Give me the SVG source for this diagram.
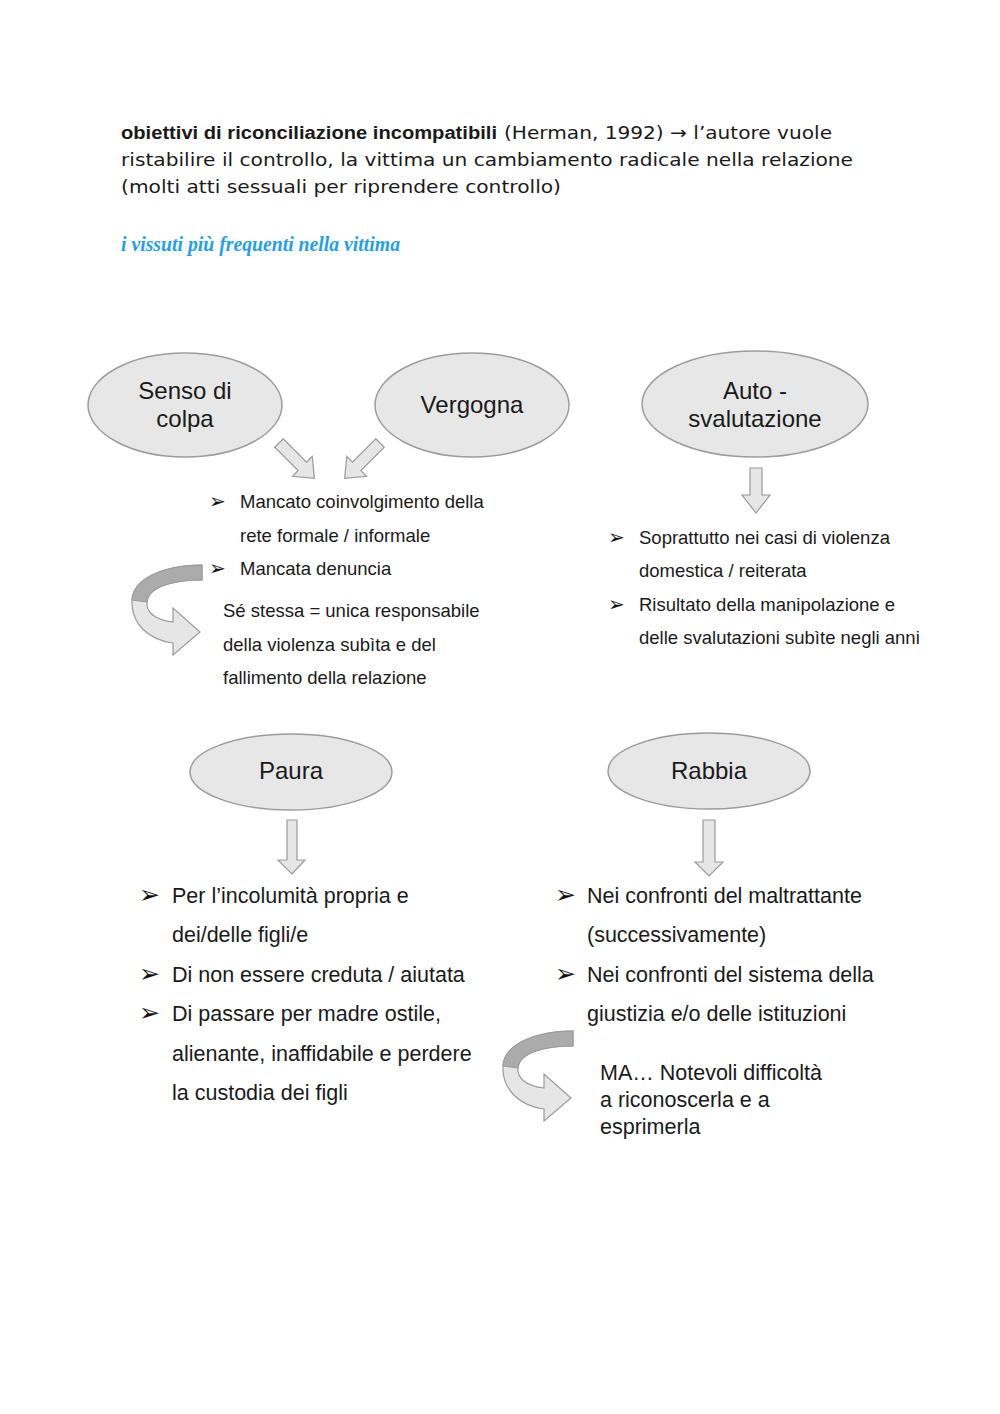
<svg xmlns="http://www.w3.org/2000/svg" xmlns:xlink="http://www.w3.org/1999/xlink" width="1000" height="1414" viewBox="0 0 1000 1414">
<style>
.bg{fill:#ffffff}
.node ellipse{fill:#e7e7e7;stroke:#9c9c9c;stroke-width:1.5}
.nt{font-family:"Liberation Sans",Arial,sans-serif;font-size:24px;fill:#1a1a1a;text-anchor:middle}
.bt{font-family:"Liberation Sans",Arial,sans-serif;font-size:18.5px;fill:#1a1a1a}
.bt2{font-family:"Liberation Sans",Arial,sans-serif;font-size:21.5px;fill:#1a1a1a}
.bul{font-family:"DejaVu Sans",sans-serif;fill:#111111}
.b1{font-size:20px}
.b2{font-size:25px}
.arr{fill:#e6e6e6;stroke:#9a9a9a;stroke-width:1.2;stroke-linejoin:miter}
.cdark{fill:#ababab;stroke:#9a9a9a;stroke-width:1}
.hdr{font-family:"DejaVu Sans",sans-serif;font-size:18px;fill:#1a1a1a}
.hdrb{font-family:"Liberation Sans",Arial,sans-serif;font-weight:bold;font-size:18px;fill:#1a1a1a}
.ttl{font-family:"Liberation Serif",serif;font-style:italic;font-weight:bold;font-size:21px;fill:#1e9fef}
</style>
<defs>
<g id="curved">
<path class="arr" d="M0,0 C-37,0 -69,13 -70,35 C-71,60 -52,75 -29,78 L-29,90 L-2,67 L-29,43 L-29,57 C-47,55 -56,47 -55,37 C-54,23 -32,15 0,15 Z"/>
<path class="cdark" d="M0,0 C-37,0 -69,13 -70,35 L-55,37 C-54,23 -32,15 0,15 Z"/>
</g>
<path id="darr" class="arr" d="M-6,0 H6 V33 H14 L0,50 L-14,33 H-6 Z"/>
</defs>
<rect class="bg" x="0" y="0" width="1000" height="1414"/>

<g id="header">
<text class="hdrb" x="121" y="139" textLength="376" lengthAdjust="spacingAndGlyphs">obiettivi di riconciliazione incompatibili</text>
<text class="hdr" x="504" y="139" textLength="328" lengthAdjust="spacingAndGlyphs">(Herman, 1992) → l’autore vuole</text>
<text class="hdr" x="121" y="166" textLength="732" lengthAdjust="spacingAndGlyphs">ristabilire il controllo, la vittima un cambiamento radicale nella relazione</text>
<text class="hdr" x="121" y="193" textLength="440" lengthAdjust="spacingAndGlyphs">(molti atti sessuali per riprendere controllo)</text>
<text class="ttl" x="121" y="251" textLength="279" lengthAdjust="spacingAndGlyphs">i vissuti più frequenti nella vittima</text>
</g>

<g id="connectors">
<use xlink:href="#darr" href="#darr" transform="translate(279,443) rotate(-45)"/>
<use xlink:href="#darr" href="#darr" transform="translate(380,443) rotate(45)"/>
<path class="arr" d="M750,468 H762 V495 H770 L756,513 L742,495 H750 Z"/>
<path class="arr" d="M287,820 H297 V860 H305 L292,874 L278,860 H287 Z"/>
<path class="arr" d="M703,820 H715 V862 H723 L709,876 L695,862 H703 Z"/>
<use xlink:href="#curved" href="#curved" transform="translate(202,565)"/>
<use xlink:href="#curved" href="#curved" transform="translate(573,1031)"/>
</g>

<g id="node-senso" class="node">
<ellipse cx="185" cy="405" rx="97" ry="52"/>
<text class="nt" x="185" y="399">Senso di</text>
<text class="nt" x="185" y="427">colpa</text>
</g>
<g id="node-vergogna" class="node">
<ellipse cx="472" cy="405" rx="97" ry="52"/>
<text class="nt" x="472" y="413">Vergogna</text>
</g>
<g id="node-auto" class="node">
<ellipse cx="755" cy="404" rx="113" ry="53"/>
<text class="nt" x="755" y="399">Auto -</text>
<text class="nt" x="755" y="427">svalutazione</text>
</g>
<g id="node-paura" class="node">
<ellipse cx="291" cy="772" rx="101" ry="38"/>
<text class="nt" x="291" y="779">Paura</text>
</g>
<g id="node-rabbia" class="node">
<ellipse cx="709" cy="771" rx="101" ry="38"/>
<text class="nt" x="709" y="779">Rabbia</text>
</g>

<g id="list-colpa">
<text class="bul b1" x="209" y="508">➢</text>
<text class="bt" x="240" y="508">Mancato coinvolgimento della</text>
<text class="bt" x="240" y="542">rete formale / informale</text>
<text class="bul b1" x="209" y="575">➢</text>
<text class="bt" x="240" y="575">Mancata denuncia</text>
<text class="bt" x="223" y="617">Sé stessa = unica responsabile</text>
<text class="bt" x="223" y="651">della violenza subìta e del</text>
<text class="bt" x="223" y="684">fallimento della relazione</text>
</g>

<g id="list-auto">
<text class="bul b1" x="608" y="544">➢</text>
<text class="bt" x="639" y="544">Soprattutto nei casi di violenza</text>
<text class="bt" x="639" y="577">domestica / reiterata</text>
<text class="bul b1" x="608" y="611">➢</text>
<text class="bt" x="639" y="611">Risultato della manipolazione e</text>
<text class="bt" x="639" y="644">delle svalutazioni subìte negli anni</text>
</g>

<g id="list-paura">
<text class="bul b2" x="139" y="903">➢</text>
<text class="bt2" x="172" y="903">Per l’incolumità propria e</text>
<text class="bt2" x="172" y="942">dei/delle figli/e</text>
<text class="bul b2" x="139" y="982">➢</text>
<text class="bt2" x="172" y="982">Di non essere creduta / aiutata</text>
<text class="bul b2" x="139" y="1021">➢</text>
<text class="bt2" x="172" y="1021">Di passare per madre ostile,</text>
<text class="bt2" x="172" y="1061">alienante, inaffidabile e perdere</text>
<text class="bt2" x="172" y="1100">la custodia dei figli</text>
</g>

<g id="list-rabbia">
<text class="bul b2" x="555" y="903">➢</text>
<text class="bt2" x="587" y="903">Nei confronti del maltrattante</text>
<text class="bt2" x="587" y="942">(successivamente)</text>
<text class="bul b2" x="555" y="982">➢</text>
<text class="bt2" x="587" y="982">Nei confronti del sistema della</text>
<text class="bt2" x="587" y="1021">giustizia e/o delle istituzioni</text>
<text class="bt2" x="600" y="1080">MA… Notevoli difficoltà</text>
<text class="bt2" x="600" y="1107">a riconoscerla e a</text>
<text class="bt2" x="600" y="1134">esprimerla</text>
</g>
</svg>
